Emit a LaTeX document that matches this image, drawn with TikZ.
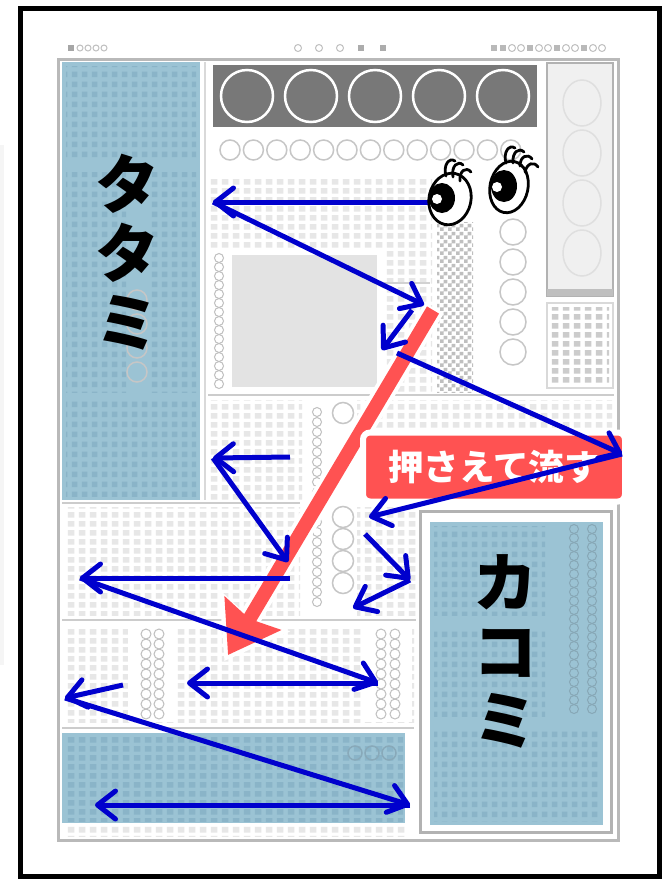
\documentclass[tikz,border=0pt]{standalone}
\usepackage{fontspec}
\newfontfamily\jpfont{Noto Sans CJK JP}
\usepackage{tikz}
\usetikzlibrary{arrows.meta,calc,patterns,positioning}

\definecolor{tatami}{RGB}{155,195,212}
\definecolor{tatamidk}{RGB}{138,180,200}
\definecolor{arrowblue}{RGB}{0,0,205}
\definecolor{flowred}{RGB}{255,82,82}
\definecolor{photogray}{RGB}{120,120,120}

% columns of set type, the dotted grid in the boxes, the screened column
\pgfdeclarepatternformonly{txtcol}{\pgfpointorigin}{\pgfpoint{11pt}{9pt}}{\pgfpoint{11pt}{9pt}}{%
  \pgfpathrectangle{\pgfpoint{2pt}{1.5pt}}{\pgfpoint{7pt}{6pt}}\pgfusepath{fill}}
\pgfdeclarepatternformonly{tatgrid}{\pgfpointorigin}{\pgfpoint{10pt}{10pt}}{\pgfpoint{10pt}{10pt}}{%
  \pgfpathrectangle{\pgfpoint{2pt}{2pt}}{\pgfpoint{6pt}{6pt}}\pgfusepath{fill}}
\pgfdeclarepatternformonly{checker}{\pgfpointorigin}{\pgfpoint{8pt}{8pt}}{\pgfpoint{8pt}{8pt}}{%
  \pgfpathrectangle{\pgfpointorigin}{\pgfpoint{4pt}{4pt}}%
  \pgfpathrectangle{\pgfpoint{4pt}{4pt}}{\pgfpoint{4pt}{4pt}}\pgfusepath{fill}}

\tikzset{
  rule/.style={draw=gray!40, line width=2.5pt},
  txt/.style={pattern=txtcol, pattern color=gray!19},
  tat/.style={pattern=tatgrid, pattern color=tatamidk},
  ring/.style={draw=gray!45, line width=1.5pt},
  chain/.style={draw=gray!50, line width=1pt},
  flow/.style={draw=arrowblue, line width=5pt,
    -{Straight Barb[length=18pt,width=28pt,round]}},
  big kana/.style={font=\jpfont\bfseries\fontsize{64}{69}\selectfont,
    align=center, inner sep=0pt},
  tag box/.style={fill=flowred, draw=white, line width=6pt, rounded corners=7pt,
    minimum width=262pt, minimum height=69pt, inner sep=0pt,
    text=white, font=\jpfont\bfseries\fontsize{35.5}{36}\selectfont}
}

\begin{document}
\begin{tikzpicture}[x=1pt,y=-1pt]
  \useasboundingbox (0,0) rectangle (663,879);
  \fill[gray!8] (0,145) rectangle (4,665);
  \draw[line width=5pt] (20,8) rectangle (659,876);

  % page
  \draw[draw=gray!55, line width=3pt, fill=white] (58,59) rectangle (618,840);
  \fill[gray!70] (68,45) rectangle (74,51);
  \foreach \x in {80,88,96,104} \draw[chain] (\x,48) circle[radius=3];
  \foreach \x in {298,319,340} \draw[chain] (\x,48) circle[radius=3.5];
  \foreach \x in {361,383} \fill[gray!65] (\x-3,45) rectangle (\x+3,51);
  \foreach \x in {494,503,530,557,584} \fill[gray!55] (\x-3,45) rectangle (\x+3,51);
  \foreach \x in {512,521,539,548,566,575,593,602} \draw[chain] (\x,48) circle[radius=3.5];

  % left column
  \fill[tatami] (62,62) rectangle (200,500);
  \fill[tat] (66,66) rectangle (196,160);
  \fill[tat] (66,172) rectangle (126,392);
  \fill[tat] (150,172) rectangle (196,392);
  \fill[tat] (66,400) rectangle (196,496);
  \foreach \y in {300,324,348,372} \draw[draw=gray!45, line width=1.5pt] (137,\y) circle[radius=10];
  \draw[gray!30, line width=2pt] (205,62) -- (205,500);

  % photo strip and circle row
  \fill[photogray] (213,65) rectangle (537,127);
  \foreach \i in {0,...,4} \draw[white, line width=2.5pt] ({247+64*\i},96) circle[radius=26];
  \foreach \i in {0,...,12} \draw[ring] ({230+23.4*\i},150) circle[radius=10];

  % right column boxes
  \draw[draw=gray!60, line width=2pt, fill=gray!12] (547,63) rectangle (613,296);
  \fill[gray!50] (547,289) rectangle (613,296);
  \foreach \y in {103,153,203,253} \draw[gray!25, line width=1.5pt] (582,\y) ellipse[x radius=19, y radius=23];
  \draw[draw=gray!30, line width=1.5pt, fill=white] (547,303) rectangle (613,388);
  \fill[pattern=txtcol, pattern color=gray!40] (551,307) rectangle (609,384);

  % upper middle
  \fill[txt] (210,177) rectangle (432,392);
  \fill[white] (210,250) rectangle (384,392);
  \foreach \y in {258,267,...,384} \draw[chain] (219,\y) circle[radius=4.5];
  \fill[gray!22] (232,255) rectangle (377,387);
  \draw[gray!35, line width=2pt] (384,283) -- (430,283);
  \fill[pattern=checker, pattern color=gray!50] (437,222) rectangle (473,392);
  \foreach \y in {232,262,...,352} \draw[ring] (513,\y) circle[radius=13];
  \draw[rule] (208,395) -- (614,395);

  % middle band
  \fill[txt] (210,400) rectangle (302,500);
  \fill[txt] (357,400) rectangle (612,430);
  \foreach \y in {412,422,...,602} \draw[chain] (317,\y) circle[radius=4.5];
  \foreach \y in {413,517,539,561,583} \draw[ring] (343,\y) circle[radius=10.5];

  % lower left blocks
  \draw[rule] (62,503) -- (300,503);
  \fill[txt] (64,507) rectangle (300,615);
  \fill[txt] (357,507) rectangle (416,615);
  \draw[rule] (62,620) -- (416,620);
  \fill[txt] (64,626) rectangle (414,722);
  \fill[white] (128,626) rectangle (176,722);
  \fill[white] (362,626) rectangle (412,722);
  \foreach \y in {634,644,...,714} {
    \draw[chain] (146,\y) circle[radius=5];
    \draw[chain] (159,\y) circle[radius=5];
    \draw[chain] (381,\y) circle[radius=5];
    \draw[chain] (395,\y) circle[radius=5];
  }
  \draw[rule] (62,728) -- (414,728);
  \fill[tatami] (62,733) rectangle (405,823);
  \fill[pattern=txtcol, pattern color=tatamidk] (64,735) rectangle (403,821);
  \foreach \x in {355,372,389} \draw[draw=tatamidk!80!gray, line width=1.5pt] (\x,753) circle[radius=7];
  \fill[txt] (64,826) rectangle (405,836);

  % boxed column
  \draw[draw=gray!60, line width=3pt] (420,511) rectangle (611,832);
  \fill[tatami] (430,522) rectangle (603,825);
  \fill[tat] (434,526) rectangle (545,615);
  \fill[tat] (434,628) rectangle (545,716);
  \fill[tat] (434,730) rectangle (600,821);
  \foreach \y in {529,538,...,712} {
    \draw[draw=tatamidk!75!gray, line width=1pt] (574,\y) circle[radius=4.5];
    \draw[draw=tatamidk!75!gray, line width=1pt] (592,\y) circle[radius=4.5];
  }

  % flow line
  \coordinate (rs) at (433,310);
  \coordinate (rt) at (228,655);
  \draw[white, line width=22pt, -{Stealth[length=58pt,width=80pt,inset=8pt]}]
    ($(rs)!-2pt!(rt)$) -- ($(rt)!-7pt!(rs)$);
  \draw[flowred, line width=14pt, -{Stealth[length=48pt,width=64pt,inset=6pt]}] (rs) -- (rt);

  \node[tag box] (tag) at (494,467) {押さえて流す};

  % reading path
  \coordinate (a1) at (428,202);  \coordinate (a2) at (213,202);
  \coordinate (a3) at (424,305);  \coordinate (a4) at (412,310);
  \coordinate (a5) at (382,350);  \coordinate (a6) at (397,353);
  \coordinate (a7) at (622,454);  \coordinate (a8) at (369,517);
  \coordinate (a9) at (290,457);  \coordinate (a10) at (213,458);
  \coordinate (a11) at (288,562); \coordinate (a12) at (365,534);
  \coordinate (a13) at (410,580); \coordinate (a14) at (353,608);
  \coordinate (a15) at (290,578); \coordinate (a16) at (80,578);
  \coordinate (a17) at (378,683); \coordinate (a18) at (187,683);
  \coordinate (a19) at (123,685); \coordinate (a20) at (65,698);
  \coordinate (a21) at (410,805); \coordinate (a22) at (95,805);
  \draw[flow] (a1) -- (a2);
  \draw[flow] (a2) -- (a3);
  \draw[flow] (a4) -- (a5);
  \draw[flow] (a6) -- (a7);
  \draw[flow] (a7) -- (a8);
  \draw[flow] (a9) -- (a10);
  \draw[flow] (a10) -- (a11);
  \draw[flow] (a12) -- (a13);
  \draw[flow] (a13) -- (a14);
  \draw[flow] (a15) -- (a16);
  \draw[flow] (a16) -- (a17);
  \draw[flow] (a17) -- (a18);
  \draw[flow] (a19) -- (a20);
  \draw[flow] (a20) -- (a21);
  \draw[flow] (a21) -- (a22);

  % eyes
  \begin{scope}[line width=2.8pt, line cap=round]
    \filldraw[fill=white, rotate around={-12:(450,199)}] (450,199) ellipse[x radius=21, y radius=26];
    \fill (442,198) ellipse[x radius=13, y radius=15];
    \fill[white] (437,199) circle[radius=5];
    \draw (446,176) .. controls (443,165) and (449,157) .. (455,161);
    \draw (453,177) .. controls (451,166) and (458,160) .. (463,165);
    \draw (460,181) .. controls (459,171) and (466,166) .. (471,172);
    \filldraw[fill=white, rotate around={-12:(509,187)}] (509,187) ellipse[x radius=19, y radius=26];
    \fill (504,186) ellipse[x radius=13, y radius=16];
    \fill[white] (497,187) circle[radius=5];
    \draw (506,163) .. controls (503,152) and (509,144) .. (515,148);
    \draw (513,163) .. controls (512,152) and (519,147) .. (524,152);
    \draw (520,166) .. controls (520,156) and (528,153) .. (532,159);
    \draw (525,172) .. controls (527,163) and (534,161) .. (538,167);
  \end{scope}

  \node[big kana] (tatami) at (127,252) {タ\\タ\\ミ};
  \node[big kana] (kakomi) at (505,651) {カ\\コ\\ミ};
\end{tikzpicture}
\end{document}
